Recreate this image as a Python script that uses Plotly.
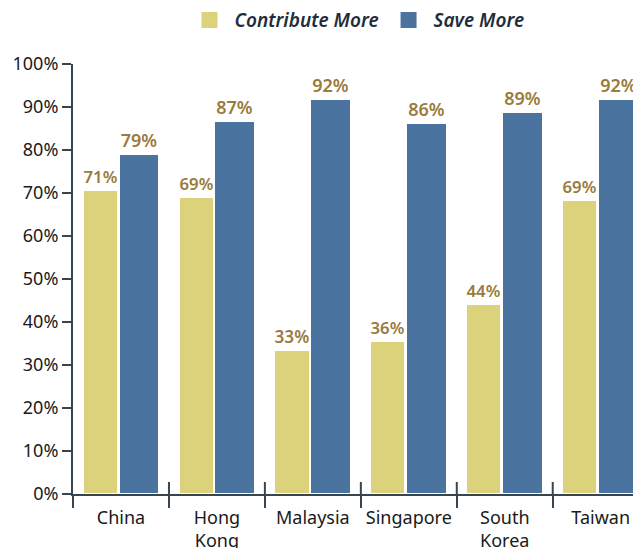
import plotly.graph_objects as go

# ---------------------------- DATA ----------------------------
countries = ["China", "Hong<br>Kong", "Malaysia", "Singapore", "South<br>Korea", "Taiwan"]
contribute_more = [70.5, 68.8, 33.2, 35.4, 44.0, 68.2]
save_more = [78.9, 86.4, 91.7, 86.1, 88.5, 91.7]
contribute_labels = ["71%", "69%", "33%", "36%", "44%", "69%"]
save_labels = ["79%", "87%", "92%", "86%", "89%", "92%"]
y_ticks = [0, 10, 20, 30, 40, 50, 60, 70, 80, 90, 100]

# ---------------------------- STYLE ----------------------------
FONT = "Noto Sans"
AXIS_COLOR = "#36454f"
LABEL_COLOR = "#9a7b3c"
YELLOW = "#ddd27c"
BLUE = "#4b73a0"

fig = go.Figure()

fig.add_trace(go.Bar(
    x=countries, y=contribute_more, name="Contribute More", showlegend=False,
    text=contribute_labels, textposition="outside",
    textfont=dict(family=FONT, size=18, color=LABEL_COLOR, weight=600),
    marker=dict(color=YELLOW, line=dict(color="white", width=1)),
    offset=-0.39, width=0.355, cliponaxis=False,
))
fig.add_trace(go.Bar(
    x=countries, y=save_more, name="Save More", showlegend=False,
    text=save_labels, textposition="outside",
    textfont=dict(family=FONT, size=18, color=LABEL_COLOR, weight=600),
    marker=dict(color=BLUE, line=dict(color="white", width=1)),
    offset=-0.015, width=0.41, cliponaxis=False,
))

# legend entries with large square swatches
for name, color in [("Contribute More", YELLOW), ("Save More", BLUE)]:
    fig.add_trace(go.Scatter(
        x=[None], y=[None], mode="markers", name=name,
        marker=dict(symbol="square", size=22, color=color),
    ))

# small tick stubs above the x axis at the category boundaries
for i in range(1, len(countries)):
    fig.add_shape(type="line", xref="x", yref="y",
                  x0=i - 0.5, x1=i - 0.5, y0=0, y1=2.8,
                  line=dict(color=AXIS_COLOR, width=2))

# the page body adds an 8px offset, so margins are shifted to compensate
fig.update_layout(
    width=641, height=548,
    margin=dict(l=65, r=8, t=56, b=62, autoexpand=False),
    plot_bgcolor="white", paper_bgcolor="white",
    font=dict(family=FONT, size=18, color="#1a1a1a"),
    showlegend=True,
    legend=dict(orientation="h", x=0.5, xanchor="center", y=1.102, yanchor="middle",
                font=dict(family=FONT, size=19, color="#1f2d3a", style="italic", weight=600),
                itemwidth=40, traceorder="normal"),
    bargap=0,
)

fig.update_xaxes(
    range=[-0.5, 5.42], showline=True, linecolor=AXIS_COLOR, linewidth=2,
    ticks="outside", tickson="boundaries", ticklen=12, tickwidth=2, tickcolor=AXIS_COLOR,
    tickfont=dict(family=FONT, size=18, color="#1a1a1a"), ticklabelstandoff=6, tickangle=0,
    showgrid=False, zeroline=False, fixedrange=True, automargin=False,
)
fig.update_yaxes(
    range=[0, 100], tickvals=y_ticks, ticktext=[f"{v}%" for v in y_ticks],
    showline=True, linecolor=AXIS_COLOR, linewidth=2,
    ticks="outside", ticklen=9, tickwidth=2, tickcolor=AXIS_COLOR,
    tickfont=dict(family=FONT, size=18, color="#1a1a1a"),
    showgrid=False, zeroline=False, fixedrange=True, automargin=False,
)

fig.write_html("out.html")
